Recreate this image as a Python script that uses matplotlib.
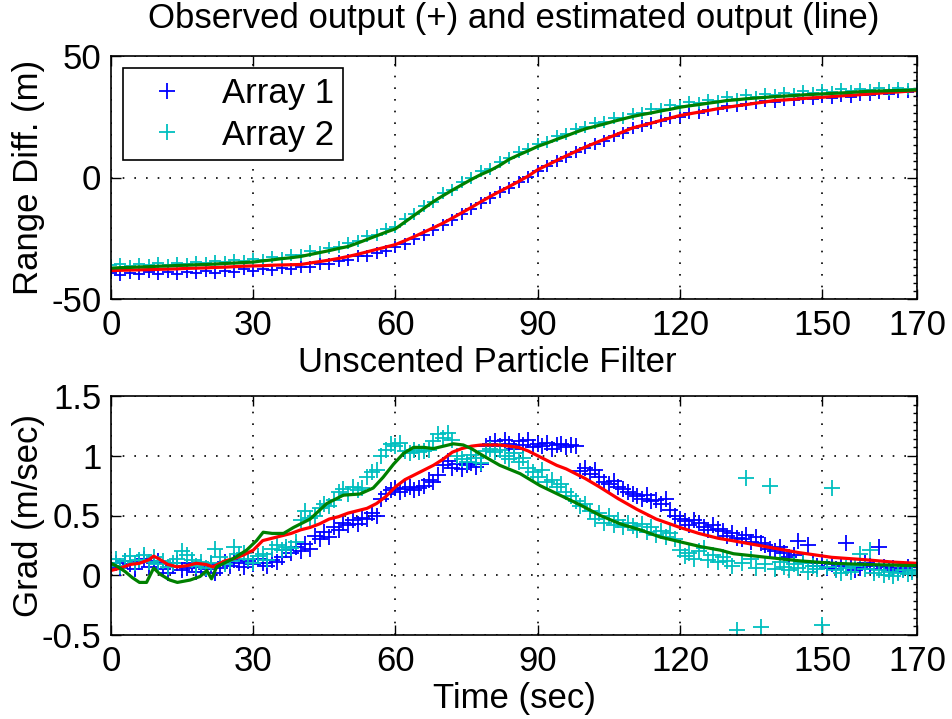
import matplotlib.pyplot as plt
from matplotlib.ticker import FuncFormatter, MultipleLocator

plt.rcParams["font.family"] = ["Liberation Sans", "DejaVu Sans"]
plt.rcParams["font.size"] = 25
plt.rcParams["axes.titlesize"] = 25

# --- top panel: range difference (m), observed every 2 s ---
range_time = list(range(0, 171, 2))
range_obs_1 = [
    -39.5, -40.1, -39.2, -39.8, -38.9, -39.6, -39.0, -39.7, -38.8, -39.3,
    -38.6, -39.2, -38.3, -38.9, -37.8, -38.5, -37.6, -38.1, -37.2, -37.8,
    -37.0, -36.8, -35.7, -35.6, -34.3, -34.0, -32.5, -32.3, -30.9, -30.2,
    -28.5, -27.4, -25.3, -23.8, -21.6, -19.5, -17.6, -15.0, -12.8, -10.6,
    -8.3, -6.0, -4.2, -1.7, 0.1, 2.8, 4.6, 6.9, 8.4, 10.5,
    12.0, 13.9, 15.2, 17.1, 18.4, 20.2, 21.0, 22.5, 23.1, 24.6,
    25.0, 26.4, 26.6, 27.9, 28.0, 29.3, 29.4, 30.4, 30.5, 31.3,
    31.2, 32.0, 31.8, 32.6, 32.3, 33.1, 32.9, 33.5, 33.3, 34.0,
    33.9, 34.6, 34.5, 35.2, 35.1, 35.6,
]
range_obs_2 = [
    -36.2, -35.8, -36.4, -35.6, -36.0, -35.2, -35.9, -35.1, -35.6, -34.8,
    -35.1, -34.4, -34.9, -34.0, -34.5, -33.6, -33.9, -32.7, -33.0, -31.9,
    -31.8, -30.4, -30.5, -28.9, -28.6, -27.1, -26.3, -24.2, -23.5, -21.3,
    -20.4, -17.1, -15.0, -11.6, -10.2, -6.4, -5.0, -1.8, -0.3, 2.5,
    3.6, 6.3, 8.1, 10.6, 11.6, 13.9, 14.7, 17.0, 17.8, 20.0,
    20.6, 22.4, 22.7, 24.4, 24.6, 26.3, 26.4, 28.2, 28.0, 29.8,
    29.6, 31.0, 30.6, 32.0, 31.6, 33.1, 32.5, 33.8, 33.0, 34.4,
    33.8, 34.9, 34.3, 35.5, 34.8, 35.9, 35.1, 36.4, 35.5, 36.6,
    35.9, 36.8, 36.1, 37.0, 36.3, 36.6,
]
range_est_1 = [
    -38.3, -38.2, -38.1, -38.0, -37.9, -37.8, -37.7, -37.6, -37.4, -37.3,
    -37.2, -37.0, -36.9, -36.7, -36.5, -36.4, -36.3, -36.1, -36.0, -35.9,
    -35.8, -35.2, -34.6, -34.0, -33.3, -32.5, -31.6, -30.6, -29.6, -28.6,
    -27.6, -26.0, -24.3, -22.5, -20.7, -18.8, -16.7, -14.5, -12.3, -10.0,
    -7.8, -5.7, -3.7, -1.6, 0.6, 3.2, 5.1, 7.0, 8.9, 10.7,
    12.5, 14.1, 15.7, 17.2, 18.8, 20.4, 21.4, 22.4, 23.5, 24.5,
    25.5, 26.2, 26.9, 27.6, 28.3, 28.9, 29.5, 30.0, 30.6, 31.1,
    31.7, 31.9, 32.2, 32.5, 32.8, 33.0, 33.3, 33.6, 33.8, 34.1,
    34.4, 34.7, 35.0, 35.2, 35.5, 35.8,
]
range_est_2 = [
    -37.3, -37.1, -37.0, -36.8, -36.7, -36.5, -36.4, -36.2, -36.1, -35.9,
    -35.8, -35.6, -35.4, -35.2, -35.0, -34.8, -34.3, -33.9, -33.4, -33.0,
    -32.5, -31.7, -30.9, -30.1, -29.2, -28.4, -27.0, -25.5, -24.0, -22.5,
    -21.1, -18.3, -15.5, -12.7, -9.9, -7.5, -5.2, -3.0, -0.8, 1.2,
    2.9, 5.0, 7.5, 9.3, 11.0, 12.8, 14.2, 15.7, 17.1, 18.6,
    20.0, 21.0, 22.0, 23.1, 24.1, 25.1, 25.9, 26.6, 27.4, 28.1,
    28.9, 29.5, 30.0, 30.6, 31.1, 31.7, 32.0, 32.4, 32.7, 33.0,
    33.3, 33.5, 33.7, 34.0, 34.2, 34.4, 34.6, 34.8, 35.0, 35.3,
    35.5, 35.6, 35.7, 35.8, 35.9, 36.1,
]

# --- bottom panel: gradient (m/sec), observed every 1 s ---
grad_time = list(range(0, 171))
grad_obs_1 = [
    0.08, 0.10, 0.06, 0.12, 0.09, 0.05, 0.11, 0.14, 0.07, 0.10,
    0.12, 0.05, 0.02, 0.08, 0.10, 0.04, 0.06, 0.10, 0.03, 0.07,
    0.05, 0.09, 0.02, 0.06, 0.11, 0.08, 0.13, 0.10, 0.07, 0.12,
    0.09, 0.14, 0.10, 0.08, 0.13, 0.11, 0.15, 0.21, 0.19, 0.24,
    0.20, 0.26, 0.22, 0.33, 0.30, 0.36, 0.32, 0.40, 0.38, 0.44,
    0.42, 0.46, 0.43, 0.48, 0.47, 0.52, 0.50, 0.64, 0.68, 0.71,
    0.73, 0.70, 0.72, 0.74, 0.71, 0.73, 0.75, 0.80, 0.78, 0.84,
    0.92, 0.96, 0.90, 0.93, 0.89, 0.92, 0.94, 0.91, 0.93, 1.08,
    1.10, 1.12, 1.08, 1.13, 1.10, 1.06, 1.12, 1.09, 1.13, 1.07,
    1.10, 1.08, 1.11, 1.06, 1.09, 1.10, 1.07, 1.09, 1.08, 0.87,
    0.90, 0.85, 0.88, 0.82, 0.78, 0.76, 0.79, 0.74, 0.72, 0.70,
    0.68, 0.66, 0.64, 0.67, 0.62, 0.63, 0.60, 0.64, 0.55, 0.50,
    0.47, 0.45, 0.42, 0.46, 0.44, 0.40, 0.38, 0.42, 0.39, 0.37,
    0.33, 0.35, 0.31, 0.30, 0.34, 0.28, 0.32, 0.27, 0.25, 0.22,
    0.20, 0.24, 0.19, 0.15, 0.17, 0.29, 0.12, 0.25, 0.10, 0.08,
    0.11, 0.06, 0.09, 0.05, 0.08, 0.27, 0.07, 0.04, 0.06, 0.10,
    0.08, 0.05, 0.24, 0.07, 0.04, 0.06, 0.03, 0.05, 0.07, 0.04,
    0.04,
]
grad_obs_2 = [
    0.10, 0.14, 0.08, 0.12, 0.16, 0.10, 0.13, 0.17, 0.11, 0.15,
    0.09, 0.12, 0.07, 0.10, 0.14, 0.20, 0.17, 0.13, 0.08, 0.11,
    0.06, 0.10, 0.22, 0.15, 0.09, 0.12, 0.24, 0.18, 0.19, 0.14,
    0.10, 0.16, 0.18, 0.13, 0.22, 0.25, 0.21, 0.24, 0.23, 0.28,
    0.46, 0.54, 0.48, 0.50, 0.56, 0.60, 0.58, 0.63, 0.70, 0.72,
    0.68, 0.74, 0.71, 0.73, 0.82, 0.86, 0.88, 1.00, 1.05, 1.10,
    1.08, 1.11, 1.04, 1.02, 1.05, 1.03, 1.04, 1.05, 1.12, 1.18,
    1.15, 1.19, 1.13, 1.00, 0.97, 0.95, 1.01, 0.98, 0.94, 1.04,
    1.06, 1.03, 1.05, 1.00, 0.97, 1.02, 0.95, 0.98, 0.90, 0.86,
    0.82, 0.88, 0.78, 0.80, 0.74, 0.76, 0.70, 0.66, 0.62, 0.58,
    0.60, 0.54, 0.47, 0.52, 0.44, 0.50, 0.42, 0.46, 0.40, 0.44,
    0.41, 0.38, 0.43, 0.36, 0.40, 0.34, 0.37, 0.32, 0.35, 0.30,
    0.21, 0.16, 0.19, 0.14, 0.20, 0.23, 0.13, 0.17, 0.11, 0.15,
    0.12, 0.08, -0.46, 0.10, 0.81, 0.14, 0.06, -0.43, 0.09, 0.75,
    0.05, 0.11, 0.07, 0.04, 0.09, 0.06, 0.10, 0.03, 0.08, 0.05,
    -0.42, 0.07, 0.73, 0.04, 0.02, 0.06, 0.03, 0.08, 0.18, 0.05,
    0.21, 0.02, 0.04, 0.00, 0.03, -0.01, 0.02, 0.04, 0.01, 0.03,
    0.04,
]
grad_est_time_1 = [
    0, 2, 4, 6, 8, 9, 10, 12, 14, 16, 18, 20, 21.5, 24, 26, 28, 30, 32, 34, 36,
    38, 40, 42, 44, 46, 48, 50, 52, 54, 56, 58, 60, 62, 64, 66, 68, 70, 72, 74, 76,
    78, 82, 86, 88, 90, 92, 94, 96, 98, 100, 103, 107, 111, 115, 120, 124, 128, 131,
    138, 145, 152, 159, 165, 170,
]
grad_est_1 = [
    0.04, 0.06, 0.09, 0.10, 0.13, 0.16, 0.14, 0.09, 0.07, 0.08, 0.10, 0.09, 0.07, 0.12,
    0.14, 0.17, 0.21, 0.29, 0.31, 0.33, 0.35, 0.38, 0.40, 0.43, 0.47, 0.49, 0.52, 0.54,
    0.56, 0.60, 0.66, 0.74, 0.80, 0.84, 0.88, 0.92, 0.97, 1.03, 1.06, 1.08, 1.09, 1.09,
    1.07, 1.04, 1.00, 0.96, 0.92, 0.89, 0.85, 0.81, 0.74, 0.64, 0.55, 0.47, 0.40, 0.35,
    0.31, 0.29, 0.24, 0.19, 0.15, 0.13, 0.11, 0.10,
]
grad_est_time_2 = [
    0, 1.5, 3, 4.5, 6, 7.5, 9, 10.3, 12.4, 14, 16.7, 18.8, 20.2, 21.2, 22.3, 25.8,
    28.6, 30.7, 32.1, 34, 36.4, 38.5, 42, 45.5, 49, 52.5, 55.3, 57.4, 59.6, 61.7,
    63.8, 66, 68, 72.2, 74.3, 76, 78.5, 82, 86.3, 90.5, 94.7, 98.9, 103.2, 107.4,
    111.6, 115.8, 120, 124.3, 128.5, 131.3, 138.3, 145.4, 152.4, 159.4, 170,
]
grad_est_2 = [
    0.10, 0.07, 0.03, -0.02, -0.06, -0.06, 0.06, 0.01, -0.04, -0.06, -0.04, -0.01,
    0.04, -0.03, 0.07, 0.14, 0.21, 0.29, 0.36, 0.35, 0.35, 0.40, 0.47, 0.60, 0.67,
    0.68, 0.73, 0.82, 0.93, 1.02, 1.07, 1.07, 1.06, 1.10, 1.09, 1.06, 1.00, 0.92,
    0.85, 0.75, 0.67, 0.59, 0.50, 0.43, 0.38, 0.32, 0.28, 0.24, 0.21, 0.18, 0.15,
    0.12, 0.10, 0.09, 0.08,
]

x_ticks = [0, 30, 60, 90, 120, 150, 170]

BLUE = "#0000ff"
CYAN = "#00bfbf"
GREEN = "#008000"
RED = "#ff0000"


def style_axes(ax, minor_step):
    ax.set_xlim(0, 170)
    ax.set_xticks(x_ticks)
    ax.tick_params(direction="in", top=True, right=True, length=7, width=1, pad=7)
    # the right-hand ruler ticks seen on the original
    ax.yaxis.set_minor_locator(MultipleLocator(minor_step))
    ax.tick_params(which="minor", direction="in", left=False, right=True, length=3, width=1)
    ax.grid(True, which="major", color="black", linestyle=(0, (1, 6)), linewidth=1.2)
    ax.yaxis.set_major_formatter(FuncFormatter(lambda v, _: f"{v:g}"))
    for s in ax.spines.values():
        s.set_linewidth(1.2)


def main() -> None:
    fig = plt.figure(figsize=(9.53, 7.19), dpi=100)
    ax1 = fig.add_axes([111 / 953, 1 - 299 / 719, 806 / 953, 243 / 719])
    ax2 = fig.add_axes([111 / 953, 1 - 635 / 719, 806 / 953, 239 / 719])

    # top: range difference
    ax1.plot(range_time, range_obs_1, "+", color=BLUE, ms=9, mew=1.3, label="Array 1")
    ax1.plot(range_time, range_obs_2, "+", color=CYAN, ms=9, mew=1.3, label="Array 2")
    ax1.plot(range_time, range_est_1, color=RED, lw=2.3)
    ax1.plot(range_time, range_est_2, color=GREEN, lw=2.3)
    style_axes(ax1, 100 / 30)
    ax1.set_ylim(-50, 50)
    ax1.set_yticks([-50, 0, 50])
    ax1.set_title("Observed output (+) and estimated output (line)", pad=20)
    ax1.set_ylabel("Range Diff. (m)")
    ax1.yaxis.set_label_coords(-0.082, 0.5)
    leg = ax1.legend(loc="upper left", fancybox=False, edgecolor="black",
                     framealpha=1, borderpad=0.25, handlelength=2.0,
                     handletextpad=0.6, markerscale=1.3, borderaxespad=0.35,
                     labelspacing=0.25)
    leg.get_frame().set_linewidth(1.2)

    # bottom: gradient
    ax2.plot(grad_time, grad_obs_1, "+", color=BLUE, ms=11, mew=1.3)
    ax2.plot(grad_time, grad_obs_2, "+", color=CYAN, ms=11, mew=1.3)
    ax2.plot(grad_est_time_1, grad_est_1, color=RED, lw=2.3)
    ax2.plot(grad_est_time_2, grad_est_2, color=GREEN, lw=2.3)
    style_axes(ax2, 2 / 28)
    ax2.set_ylim(-0.5, 1.5)
    ax2.set_yticks([-0.5, 0, 0.5, 1, 1.5])
    ax2.set_title("Unscented Particle Filter", pad=17, x=0.467)
    ax2.set_ylabel("Grad (m/sec)")
    ax2.yaxis.set_label_coords(-0.082, 0.5)
    ax2.set_xlabel("Time (sec)", labelpad=3)

    fig.savefig("out.png", dpi=100)


if __name__ == "__main__":
    main()
